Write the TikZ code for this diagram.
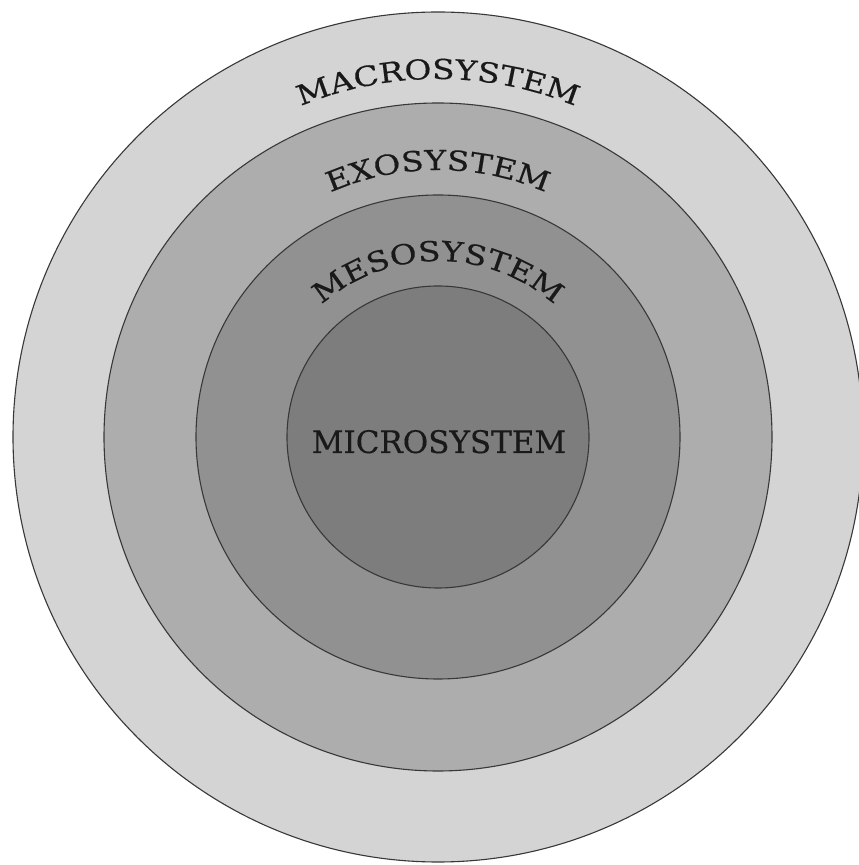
\documentclass[tikz,border=0pt]{standalone}
\usepackage{fontspec}
\setmainfont{DejaVu Serif}
\newfontfamily\arcfont[FakeStretch=1.2,FakeBold=0.4]{DejaVu Serif}
\newfontfamily\midfont[FakeBold=0.4]{DejaVu Serif}
\usetikzlibrary{decorations.text,calc}
\definecolor{ringA}{gray}{0.83}
\definecolor{ringB}{gray}{0.68}
\definecolor{ringC}{gray}{0.57}
\definecolor{ringD}{gray}{0.49}
\definecolor{edge}{gray}{0.22}
\tikzset{
  ring/.style={draw=edge, line width=1.1pt},
  arclabel/.style={decoration={text along path, text align=center, text={#1}}, decorate}
}
\begin{document}
\begin{tikzpicture}[x=1pt,y=1pt]
\useasboundingbox (0,0) rectangle (859,865);
\clip (0,0) rectangle (859,865);
\coordinate (C) at (438,428);
\fill[white] (0,0) rectangle (859,865);
\draw[ring, fill=ringA] (C) circle (425);
\draw[ring, fill=ringB] (C) circle (334);
\draw[ring, fill=ringC] (C) circle (242);
\draw[ring, fill=ringD] (C) circle (151);
\path[arclabel={|\arcfont\fontsize{27.5}{27.5}\selectfont\color{black!90}|MACROSYSTEM}] ($(C)+(180:358)$) arc[start angle=180, end angle=0, radius=358];
\path[arclabel={|\arcfont\fontsize{27.5}{27.5}\selectfont\color{black!90}|EXOSYSTEM}] ($(C)+(180:267)$) arc[start angle=180, end angle=0, radius=267];
\path[arclabel={|\arcfont\fontsize{27.5}{27.5}\selectfont\color{black!90}|MESOSYSTEM}] ($(C)+(180:176)$) arc[start angle=180, end angle=0, radius=176];
\node[font=\midfont\fontsize{31}{31}\selectfont, text=black!90, anchor=base, inner sep=0pt] (micro) at (439,412) {MICROSYSTEM};
\end{tikzpicture}
\end{document}
